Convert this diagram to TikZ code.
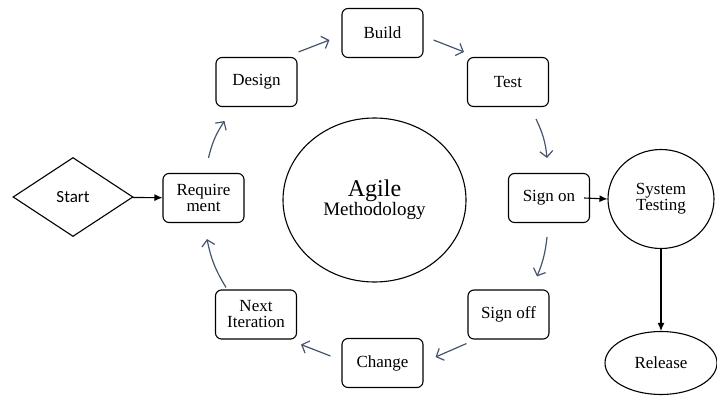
\documentclass[tikz,border=0pt]{standalone}
\usepackage{fontspec}
\setmainfont{Liberation Serif}
\newfontfamily\startfont{Carlito}
\usetikzlibrary{shapes.geometric,arrows.meta}

\definecolor{flowcolor}{HTML}{44546A}

\begin{document}
\begin{tikzpicture}[x=1pt,y=-1pt,line width=1.1pt,
        every node/.style={font=\fontsize{17}{16}\selectfont, align=center},
        stage/.style={draw, rounded corners=6pt, minimum width=81pt,
        minimum height=49pt, inner sep=0pt},
        bubble/.style={draw, ellipse, inner sep=0pt},
        flow/.style={draw=flowcolor, line width=1.2pt,
        -{Straight Barb[length=6pt,width=13pt]}},
        link/.style={-{Latex[length=8pt,width=7pt]}}
        ]
    \useasboundingbox (0,0) rectangle (717,396);
            \node[draw, diamond, minimum width=120pt, minimum height=79pt,
            inner sep=0pt, font=\startfont\fontsize{17}{16}\selectfont] (s_start) at (73,197) {Start};
            \node[stage] (s_req) at (203.5,198) {Require\\ment};
            \node[stage] (s_design) at (256.5,82) {Design};
            \node[stage] (s_build) at (382.5,33) {Build};
            \node[stage] (s_test) at (508,82) {Test};
            \node[stage] (s_signon) at (549,198) {Sign on};
            \node[stage] (s_signoff) at (508.5,314.5) {Sign off};
            \node[stage] (s_change) at (382.5,363) {Change};
            \node[stage] (s_next) at (256,314.5) {Next\\Iteration};
            \node[bubble, minimum width=183pt, minimum height=164pt] (s_agile) at (374.5,200)
            {{\fontsize{24}{23}\selectfont Agile}\\{\fontsize{19}{23}\selectfont Methodology}};
            \node[bubble, minimum width=106pt, minimum height=99pt] (s_systest) at (661,199) {System\\Testing};
            \node[bubble, minimum width=112pt, minimum height=63pt] (s_release) at (661,363) {Release};
    % the loop round the circle
    \draw [flow] ([shift={(5,-15)}]s_req.north) to[bend left=10] ([shift={(9,14)}]s_design.south west);
    \draw [flow] ([shift={(1,-5)}]s_design.north east) -- ([shift={(-12,7)}]s_build.west);
    \draw [flow] ([shift={(10,7)}]s_build.east) -- ([shift={(-3,-5)}]s_test.north west);
    \draw [flow] ([shift={(28,12)}]s_test.south) to[bend left=10] ([shift={(-2,-15)}]s_signon.north);
    \draw [flow] ([shift={(-2,14)}]s_signon.south) to[bend left=8] ([shift={(28.5,-13)}]s_signoff.north);
    \draw [flow] ([shift={(-1,4)}]s_signoff.south west) -- ([shift={(12,-6)}]s_change.east);
    \draw [flow] ([shift={(-11,-7)}]s_change.west) -- ([shift={(4,5)}]s_next.south east);
    \draw [flow] ([shift={(-30,-2)}]s_next.north) to[bend left=10] ([shift={(3.5,16)}]s_req.south);
    % in and out
    \draw [link] (s_start) -- (s_req);
    \draw [link] ([xshift=-6pt]s_signon.east) -- (s_systest.west);
    \draw [link] (s_systest) -- (s_release);
\end{tikzpicture}
\end{document}
